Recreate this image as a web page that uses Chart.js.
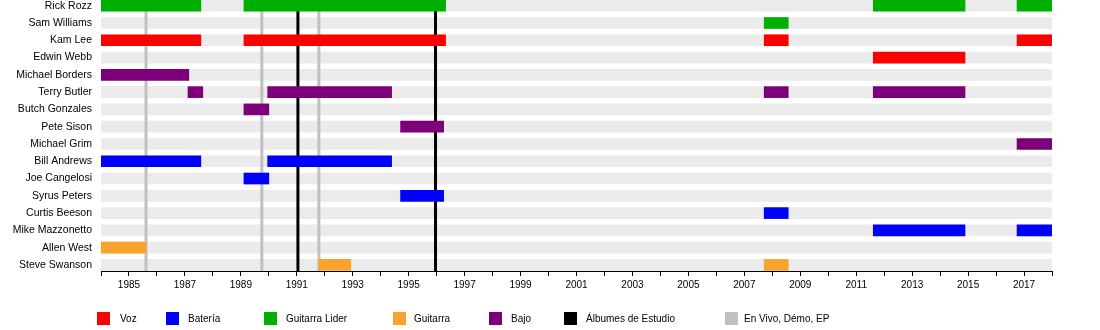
<!DOCTYPE html>
<html>
<head>
<meta charset="utf-8">
<script src="https://cdn.jsdelivr.net/npm/chart.js@4/dist/chart.umd.min.js"></script>
<style>
  body { margin: 0; background: #fff; }
  #wrap { position: relative; width: 1100px; height: 330px; }
  #legend { position: absolute; left: 0; top: 0; width: 1100px; height: 330px; pointer-events: none; }
  .sw { position: absolute; top: 312px; width: 13px; height: 13px; }
  .lb { position: absolute; top: 312px; font: 10px "Liberation Sans", Arial, sans-serif; line-height: 14px; color: #000; white-space: nowrap; }
</style>
</head>
<body>
<div id="wrap">
  <canvas id="timeline" width="1100" height="330"></canvas>
  <div id="legend"></div>
</div>
<script>
// band members, top to bottom
const members = [
    'Rick Rozz', 'Sam Williams', 'Kam Lee', 'Edwin Webb', 'Michael Borders',
    'Terry Butler', 'Butch Gonzales', 'Pete Sison', 'Michael Grim', 'Bill Andrews',
    'Joe Cangelosi', 'Syrus Peters', 'Curtis Beeson', 'Mike Mazzonetto',
    'Allen West', 'Steve Swanson'
];

const yearStart = 1984;
const yearEnd = 2018;

// [member, from, to]
const vozPeriods = [
    ['Kam Lee', 1984, 1987.57], ['Kam Lee', 1989.11, 1996.32],
    ['Kam Lee', 2007.71, 2008.57], ['Kam Lee', 2016.75, 2018],
    ['Edwin Webb', 2011.61, 2014.89]
];
const bateriaPeriods = [
    ['Bill Andrews', 1984, 1987.57], ['Bill Andrews', 1989.96, 1994.39],
    ['Joe Cangelosi', 1989.11, 1990.0],
    ['Syrus Peters', 1994.71, 1996.25],
    ['Curtis Beeson', 2007.71, 2008.57],
    ['Mike Mazzonetto', 2011.61, 2014.89], ['Mike Mazzonetto', 2016.75, 2018]
];
const guitarraLiderPeriods = [
    ['Rick Rozz', 1984, 1987.57], ['Rick Rozz', 1989.11, 1996.32],
    ['Rick Rozz', 2011.61, 2014.89], ['Rick Rozz', 2016.75, 2018],
    ['Sam Williams', 2007.71, 2008.57]
];
const guitarraPeriods = [
    ['Allen West', 1984, 1985.61],
    ['Steve Swanson', 1991.79, 1992.93], ['Steve Swanson', 2007.71, 2008.57]
];
const bajoPeriods = [
    ['Michael Borders', 1984, 1987.14],
    ['Terry Butler', 1987.11, 1987.64], ['Terry Butler', 1989.96, 1994.39],
    ['Terry Butler', 2007.71, 2008.57], ['Terry Butler', 2011.61, 2014.89],
    ['Butch Gonzales', 1989.11, 1990.0],
    ['Pete Sison', 1994.71, 1996.25],
    ['Michael Grim', 2016.75, 2018]
];

// release dates
const studioAlbums = [1991.04, 1995.96];
const otherReleases = [1985.61, 1989.75, 1991.79];

const legendLabels = ['Voz', 'Batería', 'Guitarra Lider', 'Guitarra', 'Bajo', 'Álbumes de Estudio', 'En Vivo, Démo, EP'];
const legendColors = ['#ff0000', '#0000ff', '#00b000', '#f9a22c', '#7d007a', '#000000', '#c0c0c0'];

const yMin = -0.33;
const yMax = 15.35;

function toBars(periods) {
    return periods.map(p => ({ x: [p[1], p[2]], y: members.indexOf(p[0]) }));
}

function barSet(label, periods, color) {
    return {
        label: label,
        data: toBars(periods),
        backgroundColor: color,
        barThickness: 11,
        grouped: false,
        borderWidth: 0,
        order: 1
    };
}

function releaseLine(year, color) {
    return {
        type: 'line',
        data: [{ x: year, y: yMin }, { x: year, y: yMax }],
        borderColor: color,
        borderWidth: 3,
        pointRadius: 0,
        fill: false,
        order: 5
    };
}

const datasets = [
    {
        label: 'bg',
        data: members.map((m, i) => ({ x: [yearStart, yearEnd], y: i })),
        backgroundColor: '#ebebeb',
        barThickness: 11,
        grouped: false,
        borderWidth: 0,
        order: 10
    },
    ...otherReleases.map(y => releaseLine(y, '#c0c0c0')),
    ...studioAlbums.map(y => releaseLine(y, '#000000')),
    barSet('Voz', vozPeriods, legendColors[0]),
    barSet('Batería', bateriaPeriods, legendColors[1]),
    barSet('Guitarra Lider', guitarraLiderPeriods, legendColors[2]),
    barSet('Guitarra', guitarraPeriods, legendColors[3]),
    barSet('Bajo', bajoPeriods, legendColors[4])
];

Chart.defaults.font.family = '"Liberation Sans", Arial, sans-serif';
Chart.defaults.color = '#000';

new Chart(document.getElementById('timeline'), {
    type: 'bar',
    data: { datasets: datasets },
    options: {
        indexAxis: 'y',
        responsive: false,
        animation: false,
        layout: { padding: { left: 0, right: 48, top: 0, bottom: 0 } },
        plugins: {
            legend: { display: false },
            tooltip: { enabled: false }
        },
        scales: {
            x: {
                type: 'linear',
                position: 'bottom',
                min: yearStart,
                max: yearEnd,
                afterFit: s => {
                    s.height = 59;
                    s.paddingLeft = 0;
                    s.paddingRight = 0;
                },
                ticks: {
                    stepSize: 1,
                    autoSkip: false,
                    maxRotation: 0,
                    padding: 3,
                    font: { size: 10 },
                    callback: v => (v % 2 === 1 ? String(v) : '')
                },
                grid: {
                    drawOnChartArea: false,
                    drawTicks: true,
                    tickLength: 5,
                    color: '#000'
                },
                border: { display: true, color: '#000', width: 1 }
            },
            y: {
                type: 'linear',
                reverse: true,
                min: yMin,
                max: yMax,
                offset: false,
                afterFit: s => {
                    s.width = 101;
                    s.paddingTop = 0;
                    s.paddingBottom = 0;
                },
                afterBuildTicks: axis => {
                    axis.ticks = members.map((m, i) => ({ value: i }));
                },
                ticks: {
                    autoSkip: false,
                    padding: 9,
                    font: { size: 10.5 },
                    callback: v => members[v] || ''
                },
                grid: { display: false, drawTicks: false, offset: false },
                border: { display: false }
            }
        }
    }
});

// legend below the plot
const legendLeft = [97, 166, 264, 393, 489, 564, 725];
const legendTextLeft = [120, 188, 286, 414, 511, 586, 744];
const legend = document.getElementById('legend');
legendLabels.forEach((name, i) => {
    const sw = document.createElement('div');
    sw.className = 'sw';
    sw.style.left = legendLeft[i] + 'px';
    sw.style.background = legendColors[i];
    legend.appendChild(sw);
    const lb = document.createElement('div');
    lb.className = 'lb';
    lb.style.left = legendTextLeft[i] + 'px';
    lb.textContent = name;
    legend.appendChild(lb);
});
</script>
</body>
</html>
